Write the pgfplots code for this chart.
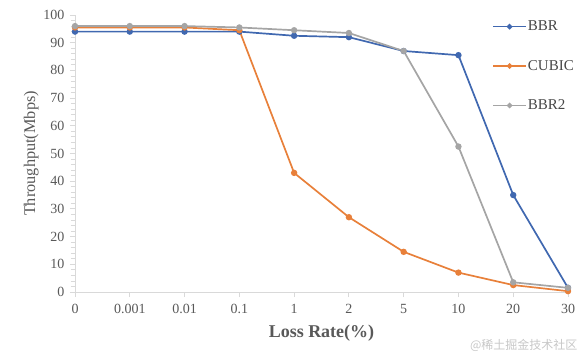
\documentclass[border=0pt]{standalone}
\usepackage{pgfplots}
\pgfplotsset{compat=1.18}
\usepackage{fontspec}
\setmainfont{Liberation Serif}
\newfontfamily\cjk{Noto Sans CJK SC}
\definecolor{bbr}{HTML}{4068B0}
\definecolor{cubic}{HTML}{E8803A}
\definecolor{bbrtwo}{HTML}{A5A5A5}
\definecolor{txt}{HTML}{595959}
\definecolor{axl}{HTML}{D9D9D9}
\begin{document}
\begin{tikzpicture}[x=1pt,y=1pt]
\useasboundingbox (0,0) rectangle (586,356);
\begin{axis}[
  at={(75pt,64pt)}, anchor=south west,
  scale only axis, width=493pt, height=277pt,
  xmin=0, xmax=9, ymin=0, ymax=100,
  xtick={0,...,9},
  xticklabels={0,0.001,0.01,0.1,1,2,5,10,20,30},
  ytick={0,10,...,100},
  minor y tick num=4,
  axis x line*=bottom, axis y line*=left,
  axis line style={axl, line width=0.8pt, -},
  tick style={axl, line width=0.8pt},
  major tick length=5pt, minor tick length=4pt,
  tick align=outside,
  /pgf/number format/assume math mode=true,
  ticklabel style={font=\fontsize{14}{16}\selectfont, text=txt},
  xticklabel style={yshift=-4pt},
  yticklabel style={xshift=-2pt},
  xlabel={\textbf{Loss Rate(\%)}},
  ylabel={Throughput(Mbps)},
  xlabel style={font=\fontsize{18}{20}\selectfont, text=txt, yshift=-4pt},
  ylabel style={font=\fontsize{16.3}{18}\selectfont, text=txt, yshift=-2pt},
  clip=false,
  legend style={at={(0.84,0.99)}, anchor=north west, draw=none, fill=none,
    font=\fontsize{15}{17}\selectfont, text=black!72, row sep=26pt,
    nodes={inner sep=1pt}},
  legend cell align=left,
  legend image code/.code={
    \draw[#1, line width=1.6pt] (0pt,0pt) -- (33pt,0pt);
    \path[#1,only marks, mark size=1.8pt] plot coordinates {(16.5pt,0pt)};
  },
  every axis plot/.append style={line width=1.7pt, mark=*, mark size=2.3pt},
]
\addplot[color=bbr, mark options={fill=bbr}] coordinates {
 (0,94.0) (1,94.0) (2,94.0) (3,94.0) (4,92.5) (5,92.0) (6,87.0) (7,85.5) (8,35.0) (9,1.5)};
\addlegendentry{BBR}
\addplot[color=cubic, mark options={fill=cubic}] coordinates {
 (0,95.5) (1,95.5) (2,95.5) (3,94.5) (4,43.0) (5,27.0) (6,14.5) (7,7.0) (8,2.5) (9,0.3)};
\addlegendentry{CUBIC}
\addplot[color=bbrtwo, mark options={fill=bbrtwo}] coordinates {
 (0,96.0) (1,96.0) (2,96.0) (3,95.5) (4,94.5) (5,93.5) (6,87.0) (7,52.5) (8,3.5) (9,1.5)};
\addlegendentry{BBR2}
\end{axis}
\node[anchor=east, font=\cjk\fontsize{12}{14}\selectfont, text=black!22] at (581,11) {@稀土掘金技术社区};
\end{tikzpicture}
\end{document}
